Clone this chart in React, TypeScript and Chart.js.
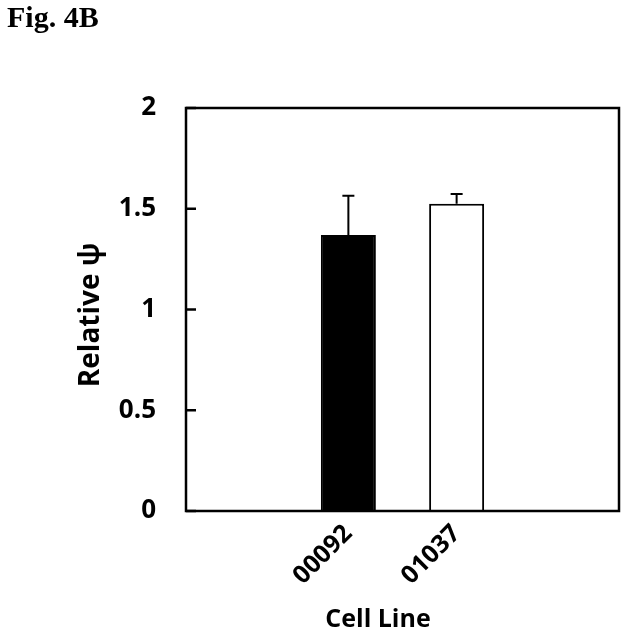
import React, { useEffect, useRef } from "react";
import { Chart, registerables } from "chart.js";

Chart.register(...registerables);

const categories = ["", "00092", "01037", ""];
const values = [null, 1.37, 1.525, null];
const errors = [null, 0.195, 0.048, null];
const barColors = ["#000000", "#000000", "#ffffff", "#000000"];
const yTicks = [0, 0.5, 1, 1.5, 2];
const figLabel = "Fig. 4B";
const yTitle = "Relative ψ";
const xTitle = "Cell Line";

const FONT = "'Open Sans', 'Liberation Sans', sans-serif";

const decorPlugin = {
  id: "decor",
  afterDatasetsDraw(chart: any) {
    const { ctx, chartArea } = chart;
    const y = chart.scales.y;
    const meta = chart.getDatasetMeta(0);
    ctx.save();
    ctx.strokeStyle = "#000";
    ctx.lineWidth = 2;
    meta.data.forEach((bar: any, i: number) => {
      const v = values[i];
      const e = errors[i];
      if (v == null || e == null) return;
      const x = bar.x;
      const yTop = y.getPixelForValue(v);
      const yErr = y.getPixelForValue(v + e);
      ctx.beginPath();
      ctx.moveTo(x, yTop);
      ctx.lineTo(x, yErr);
      ctx.moveTo(x - 6, yErr);
      ctx.lineTo(x + 6, yErr);
      ctx.stroke();
    });
    ctx.lineWidth = 2.5;
    ctx.strokeRect(chartArea.left, chartArea.top, chartArea.right - chartArea.left, chartArea.bottom - chartArea.top);
    yTicks.forEach((t) => {
      const py = y.getPixelForValue(t);
      ctx.beginPath();
      ctx.moveTo(chartArea.left, py);
      ctx.lineTo(chartArea.left + 10, py);
      ctx.stroke();
    });
    ctx.fillStyle = "#000";
    ctx.font = "bold 25px " + FONT;
    ctx.textAlign = "center";
    ctx.textBaseline = "middle";
    ctx.fillText(xTitle, 378, 620);
    ctx.save();
    ctx.translate(91, 315);
    ctx.rotate(-Math.PI / 2);
    ctx.font = "bold 28px " + FONT;
    ctx.fillText(yTitle, 0, 0);
    ctx.restore();
    ctx.font = "bold 30px 'Liberation Serif', 'Times New Roman', serif";
    ctx.textAlign = "left";
    ctx.textBaseline = "alphabetic";
    ctx.fillText(figLabel, 7, 27);
    ctx.restore();
  },
};

export default function App() {
  const ref = useRef<HTMLCanvasElement | null>(null);
  useEffect(() => {
    document.body.style.margin = "0";
    const canvas = ref.current;
    if (!canvas) return;
    const chart = new Chart(canvas, {
      type: "bar",
      data: {
        labels: categories,
        datasets: [
          {
            data: values as any,
            backgroundColor: barColors,
            borderColor: "#000",
            borderWidth: 2,
            barPercentage: 0.508,
            categoryPercentage: 1,
          },
        ],
      },
      options: {
        responsive: false,
        animation: false,
        layout: { padding: { left: 0, right: 9, top: 108, bottom: 0 } },
        plugins: { legend: { display: false }, tooltip: { enabled: false }, title: { display: false } },
        scales: {
          x: {
            grid: { display: false },
            border: { display: false },
            ticks: {
              autoSkip: false,
              minRotation: 45,
              maxRotation: 45,
              padding: 0,
              color: "#000",
              font: { family: FONT, weight: "bold", size: 25 },
            },
            afterFit(scale: any) {
              scale.height = 127;
            },
          },
          y: {
            min: 0,
            max: 2,
            grid: { display: false },
            border: { display: false },
            afterBuildTicks(scale: any) {
              scale.ticks = yTicks.map((v) => ({ value: v }));
            },
            ticks: {
              padding: 22,
              color: "#000",
              font: { family: FONT, weight: "bold", size: 26 },
              callback: (v: any) => String(v),
            },
            afterFit(scale: any) {
              scale.width = 186;
            },
          },
        },
      },
      plugins: [decorPlugin],
    });
    return () => chart.destroy();
  }, []);
  return (
    <div style={{ width: 628, height: 638, background: "#fff" }}>
      <canvas ref={ref} width={628} height={638} />
    </div>
  );
}
